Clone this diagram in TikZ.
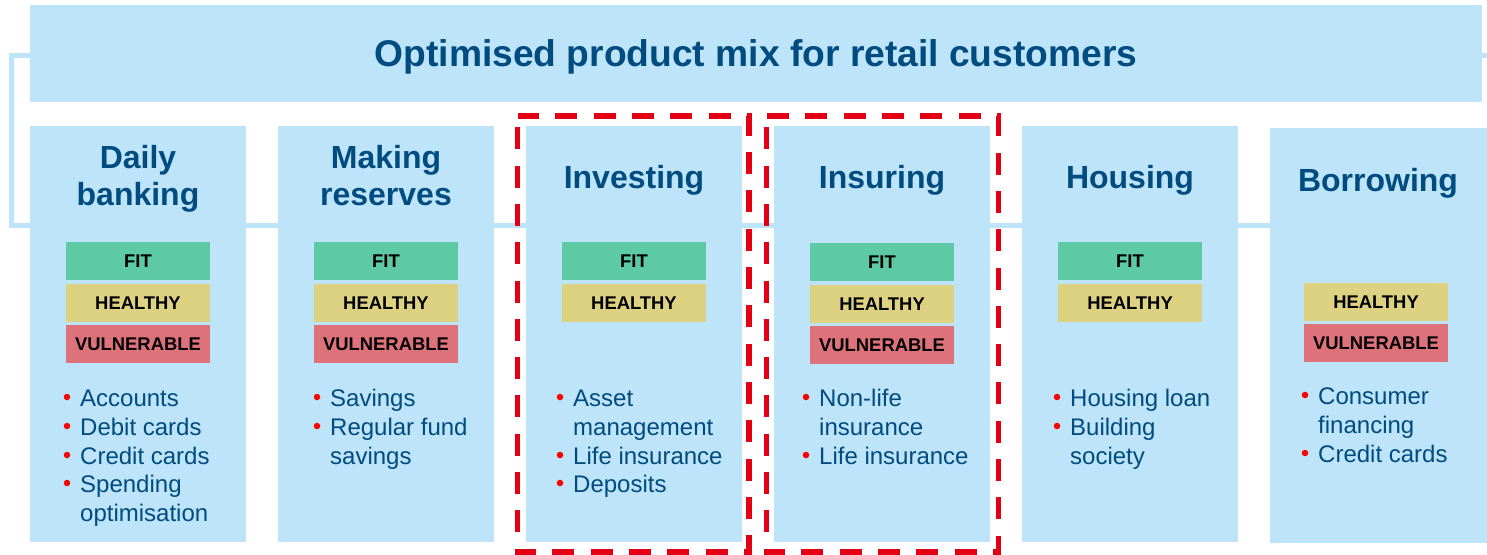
\documentclass[tikz,border=0pt]{standalone}
\usepackage{fontspec}
\setmainfont{Liberation Sans}
\definecolor{boxblue}{RGB}{189,228,248}
\definecolor{darkblue}{RGB}{0,75,127}
\definecolor{fitgreen}{RGB}{93,201,165}
\definecolor{healthyyel}{RGB}{220,210,130}
\definecolor{vulnred}{RGB}{222,114,122}
\definecolor{dashred}{RGB}{228,0,20}
\definecolor{dotred}{RGB}{250,0,0}
\begin{document}
\begin{tikzpicture}[x=1pt,y=-1pt,
  colbox/.style={fill=boxblue, inner sep=0pt, anchor=north west, minimum width=216pt},
  header/.style={text=darkblue, font=\fontsize{32}{37}\selectfont\bfseries, anchor=base, inner sep=0pt},
  tagbox/.style={minimum width=144pt, minimum height=38pt, inner sep=0pt, text=black, font=\fontsize{18.4}{20}\selectfont\bfseries},
  fittag/.style={tagbox, fill=fitgreen},
  healthytag/.style={tagbox, fill=healthyyel},
  vulntag/.style={tagbox, fill=vulnred},
  item/.style={text=darkblue, font=\fontsize{24}{28}\selectfont, anchor=base west, inner sep=0pt},
  dot/.style={circle, fill=dotred, inner sep=0pt, minimum size=6.5pt},
  reddash/.style={draw=dashred, line width=5.5pt, dash pattern=on 22pt off 16.3pt, dash phase=27pt}
]
\useasboundingbox (0,0) rectangle (1487,554);
% background frame
\draw[boxblue, line width=5pt] (1500,55.5) -- (11,55.5) -- (11,225.5) -- (1500,225.5);
% title
\node[fill=boxblue, inner sep=0pt, anchor=north west, minimum width=1452pt, minimum height=96.6pt] (titlebox) at (30,5) {};
\node[text=darkblue, font=\fontsize{37.2}{41}\selectfont\bfseries, anchor=base, inner sep=0pt] (title) at (756,66) {Optimised product mix for retail customers};
% columns
\node[colbox, minimum height=415.7pt] (c1) at (30,126) {};
\node[colbox, minimum height=415.7pt] (c2) at (278,126) {};
\node[colbox, minimum height=415.7pt] (c3) at (526,126) {};
\node[colbox, minimum height=415.7pt] (c4) at (774,126) {};
\node[colbox, minimum height=415.7pt] (c5) at (1022,126) {};
\node[colbox, minimum height=415pt, minimum width=220pt] (c6) at (1270,128) {};
% headers
\node[header] (h1a) at (138,168) {Daily};
\node[header] (h1b) at (138,205.5) {banking};
\node[header] (h2a) at (386,168) {Making};
\node[header] (h2b) at (386,205.5) {reserves};
\node[header] (h3) at (634,188) {Investing};
\node[header] (h4) at (882,188) {Insuring};
\node[header] (h5) at (1130,188) {Housing};
\node[header] (h6) at (1378,191) {Borrowing};
% tags
\node[fittag] (t1f) at (138,261) {FIT};
\node[healthytag] (t1h) at (138,303) {HEALTHY};
\node[vulntag] (t1v) at (138,344) {VULNERABLE};
\node[fittag] (t2f) at (386,261) {FIT};
\node[healthytag] (t2h) at (386,303) {HEALTHY};
\node[vulntag] (t2v) at (386,344) {VULNERABLE};
\node[fittag] (t3f) at (634,261) {FIT};
\node[healthytag] (t3h) at (634,303) {HEALTHY};
\node[fittag] (t4f) at (882,262) {FIT};
\node[healthytag] (t4h) at (882,304) {HEALTHY};
\node[vulntag] (t4v) at (882,345) {VULNERABLE};
\node[fittag] (t5f) at (1130,261) {FIT};
\node[healthytag] (t5h) at (1130,303) {HEALTHY};
\node[healthytag] (t6h) at (1376,302) {HEALTHY};
\node[vulntag] (t6v) at (1376,343) {VULNERABLE};
% items column 1
\node[dot] (d1a) at (67,397) {};
\node[item] (i1a) at (80,406.5) {Accounts};
\node[dot] (d1b) at (67,426) {};
\node[item] (i1b) at (80,435.5) {Debit cards};
\node[dot] (d1c) at (67,455) {};
\node[item] (i1c) at (80,464.5) {Credit cards};
\node[dot] (d1d) at (67,483) {};
\node[item] (i1d) at (80,492.5) {Spending};
\node[item] (i1e) at (80,521.5) {optimisation};
% items column 2
\node[dot] (d2a) at (317,397) {};
\node[item] (i2a) at (330,406.5) {Savings};
\node[dot] (d2b) at (317,426) {};
\node[item] (i2b) at (330,435.5) {Regular fund};
\node[item] (i2c) at (330,464.5) {savings};
% items column 3
\node[dot] (d3a) at (560,397) {};
\node[item] (i3a) at (573,406.5) {Asset};
\node[item] (i3b) at (573,435.5) {management};
\node[dot] (d3c) at (560,455) {};
\node[item] (i3c) at (573,464.5) {Life insurance};
\node[dot] (d3d) at (560,483) {};
\node[item] (i3d) at (573,492.5) {Deposits};
% items column 4
\node[dot] (d4a) at (806,397) {};
\node[item] (i4a) at (819,406.5) {Non-life};
\node[item] (i4b) at (819,435.5) {insurance};
\node[dot] (d4c) at (806,455) {};
\node[item] (i4c) at (819,464.5) {Life insurance};
% items column 5
\node[dot] (d5a) at (1057,397) {};
\node[item] (i5a) at (1070,406.5) {Housing loan};
\node[dot] (d5b) at (1057,426) {};
\node[item] (i5b) at (1070,435.5) {Building};
\node[item] (i5c) at (1070,464.5) {society};
% items column 6
\node[dot] (d6a) at (1305,395) {};
\node[item] (i6a) at (1318,404.5) {Consumer};
\node[item] (i6b) at (1318,433.5) {financing};
\node[dot] (d6c) at (1305,453) {};
\node[item] (i6c) at (1318,462.5) {Credit cards};
% dashed highlight frames
\draw[reddash] (517.5,116) rectangle (749,552);
\draw[reddash] (766.5,116) rectangle (998.5,552);
\end{tikzpicture}
\end{document}
